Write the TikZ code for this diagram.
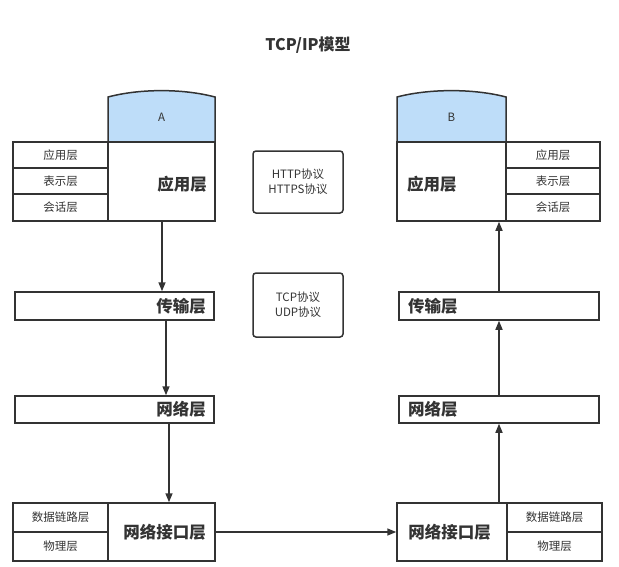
\documentclass[tikz,border=0pt]{standalone}
\usepackage{fontspec}
\setmainfont{Noto Sans CJK SC}
\usetikzlibrary{arrows.meta}
\definecolor{lc}{HTML}{333333}
\definecolor{capblue}{RGB}{190,221,249}
\begin{document}
\begin{tikzpicture}[x=1pt,y=-1pt,
  box/.style={draw=lc, line width=1.5pt, inner sep=0pt, fill=white},
  small/.style={text=lc, font=\fontsize{11.5}{14}\selectfont, inner sep=0pt},
  big/.style={text=lc, font=\fontsize{16.5}{19}\selectfont\bfseries, inner sep=0pt},
  proto/.style={draw=lc, line width=1.5pt, rounded corners=3pt, minimum width=90pt, text=lc, align=center, font=\fontsize{11.5}{15}\selectfont, inner sep=0pt},
  arr/.style={draw=lc, line width=1.5pt, -{Triangle[length=9pt,width=7pt]}}
]
\useasboundingbox (0,0) rectangle (619,566);

% title
\node[text=lc, font=\fontsize{16}{19}\selectfont\bfseries] (title) at (308,45) {TCP/IP模型};

% ---------- left host A ----------
\draw[draw=lc, line width=1.5pt, fill=capblue] (108,142) -- (108,97) .. controls (140,88.5) and (183,88.5) .. (215,97) -- (215,142) -- cycle;
\node[small] (capA) at (161.5,117) {A};
\node[box, minimum width=107pt, minimum height=79pt] (appA) at (161.5,181.5) {};
\node[big] (appAt) at (182,184) {应用层};
\node[box, minimum width=95pt, minimum height=26pt] (sA1) at (60.5,155) {};
\node[small] at (sA1) {应用层};
\node[box, minimum width=95pt, minimum height=26pt] (sA2) at (60.5,181) {};
\node[small] at (sA2) {表示层};
\node[box, minimum width=95pt, minimum height=27pt] (sA3) at (60.5,207.5) {};
\node[small] at (sA3) {会话层};

\node[box, minimum width=199pt, minimum height=28pt] (transA) at (114.5,306) {};
\node[big, anchor=east] (transAt) at (206,306) {传输层};
\node[box, minimum width=199pt, minimum height=27pt] (netA) at (114.5,409.5) {};
\node[big, anchor=east] (netAt) at (206,409.5) {网络层};

\node[box, minimum width=107pt, minimum height=58pt] (ifA) at (161.5,532) {};
\node[big] (ifAt) at (164.5,532) {网络接口层};
\node[box, minimum width=95pt, minimum height=29pt] (dlA) at (60.5,517.5) {};
\node[small] at (dlA) {数据链路层};
\node[box, minimum width=95pt, minimum height=29pt] (phA) at (60.5,546.5) {};
\node[small] at (phA) {物理层};

% ---------- right host B ----------
\draw[draw=lc, line width=1.5pt, fill=capblue] (397,142) -- (397,97) .. controls (429,88.5) and (474,88.5) .. (506,97) -- (506,142) -- cycle;
\node[small] (capB) at (451.5,117) {B};
\node[box, minimum width=109pt, minimum height=79pt] (appB) at (451.5,181.5) {};
\node[big, anchor=west] (appBt) at (407,184) {应用层};
\node[box, minimum width=94pt, minimum height=26pt] (sB1) at (553,155) {};
\node[small] at (sB1) {应用层};
\node[box, minimum width=94pt, minimum height=26pt] (sB2) at (553,181) {};
\node[small] at (sB2) {表示层};
\node[box, minimum width=94pt, minimum height=27pt] (sB3) at (553,207.5) {};
\node[small] at (sB3) {会话层};

\node[box, minimum width=200pt, minimum height=28pt] (transB) at (499,306) {};
\node[big, anchor=west] (transBt) at (408,306) {传输层};
\node[box, minimum width=200pt, minimum height=27pt] (netB) at (499,409.5) {};
\node[big, anchor=west] (netBt) at (408,409.5) {网络层};

\node[box, minimum width=110pt, minimum height=58pt] (ifB) at (452,532) {};
\node[big] (ifBt) at (449.5,532) {网络接口层};
\node[box, minimum width=95pt, minimum height=29pt] (dlB) at (554.5,517.5) {};
\node[small] at (dlB) {数据链路层};
\node[box, minimum width=95pt, minimum height=29pt] (phB) at (554.5,546.5) {};
\node[small] at (phB) {物理层};

% ---------- protocol boxes ----------
\node[proto, minimum height=62pt] (p1) at (298,182) {HTTP协议\\HTTPS协议};
\node[proto, minimum height=64pt] (p2) at (298,305) {TCP协议\\UDP协议};

% ---------- arrows ----------
\coordinate (xa1) at (162,0);
\coordinate (xa2) at (166,0);
\coordinate (xa3) at (169,0);
\coordinate (xb) at (499,0);
\draw[arr] (xa1 |- appA.south) -- (xa1 |- transA.north);
\draw[arr] (xa2 |- transA.south) -- (xa2 |- netA.north);
\draw[arr] (xa3 |- netA.south) -- (xa3 |- ifA.north);
\draw[arr] (ifA.east) -- (ifB.west);
\draw[arr] (xb |- ifB.north) -- (xb |- netB.south);
\draw[arr] (xb |- netB.north) -- (xb |- transB.south);
\draw[arr] (xb |- transB.north) -- (xb |- appB.south);
\end{tikzpicture}
\end{document}
